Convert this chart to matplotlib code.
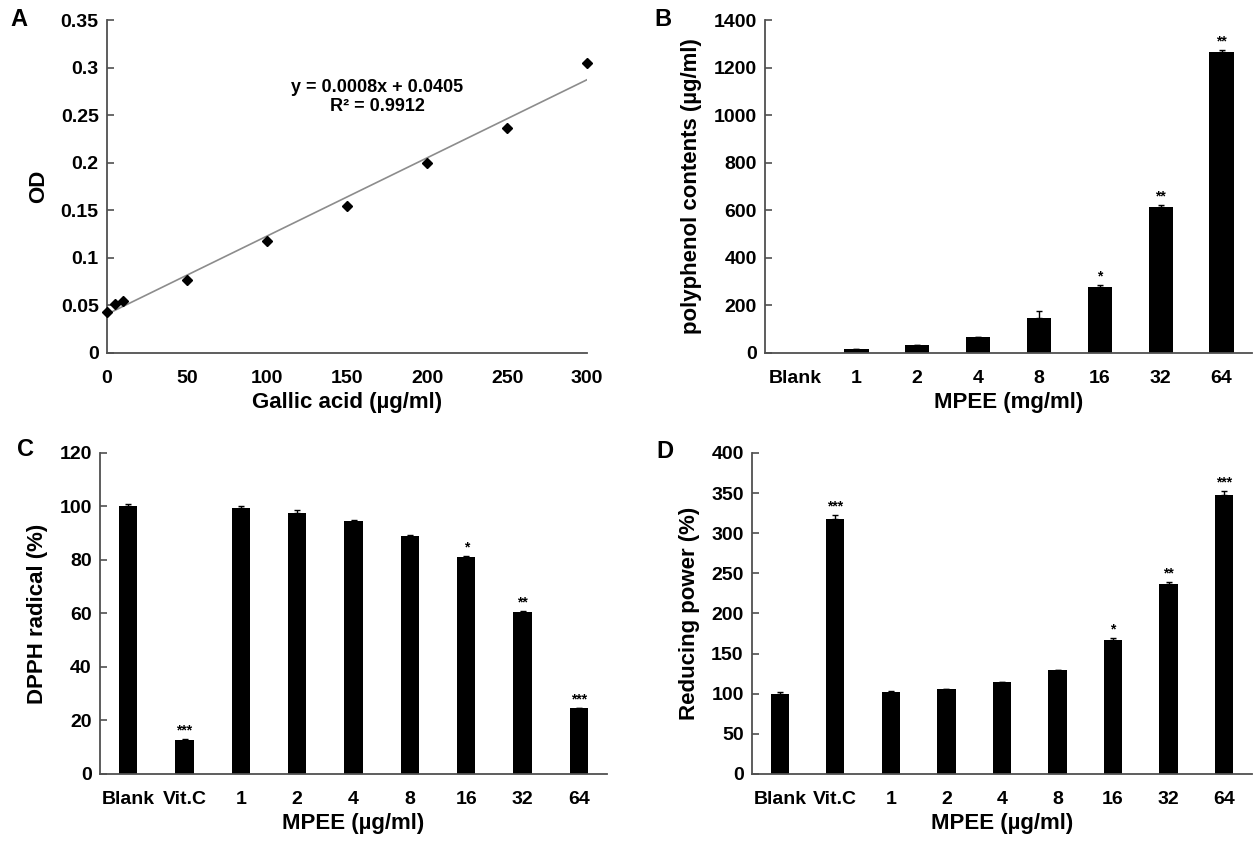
import numpy as np
import matplotlib
matplotlib.use('Agg')
import matplotlib.pyplot as plt

# ── Data ──────────────────────────────────────────────────────────────────────
gallic_conc = [0, 5, 10, 50, 100, 150, 200, 250, 300]
gallic_od   = [0.043, 0.052, 0.055, 0.077, 0.118, 0.155, 0.200, 0.237, 0.305]

poly_labels = ['Blank', '1', '2', '4', '8', '16', '32', '64']
poly_vals   = [0, 15, 33, 67, 148, 278, 613, 1265]
poly_err    = [0, 2, 2, 2, 28, 7, 10, 8]
poly_stars  = ['', '', '', '', '', '*', '**', '**']

dose_labels = ['Blank', 'Vit.C', '1', '2', '4', '8', '16', '32', '64']
dpph_vals   = [100, 12.6, 99.4, 97.6, 94.6, 89.1, 81.0, 60.4, 24.5]
dpph_err    = [1.0, 0.4, 0.8, 1.0, 0.3, 0.4, 0.6, 0.6, 0.3]
dpph_stars  = ['', '***', '', '', '', '', '*', '**', '***']

rp_vals     = [100, 318, 102, 105.5, 114, 129, 167, 237, 348]
rp_err      = [2, 5, 1, 1, 1, 1, 2, 2, 5]
rp_stars    = ['', '***', '', '', '', '', '*', '**', '***']

# ── Style ─────────────────────────────────────────────────────────────────────
plt.rcParams['font.family'] = ['Liberation Sans', 'DejaVu Sans']
plt.rcParams['font.weight'] = 'bold'
plt.rcParams['axes.labelweight'] = 'bold'
SPINE = '#505050'
TICK_FS = 14
LABEL_FS = 16

fig = plt.figure(figsize=(12.55, 8.41), dpi=100)

def style_axes(ax):
    for s in ['top', 'right']:
        ax.spines[s].set_visible(False)
    for s in ['left', 'bottom']:
        ax.spines[s].set_color(SPINE)
        ax.spines[s].set_linewidth(1.3)
    ax.tick_params(axis='y', direction='in', length=5, width=1.2,
                   color=SPINE, labelsize=TICK_FS, pad=6)
    ax.tick_params(axis='x', length=0, labelsize=TICK_FS, pad=12)

def bar_panel(ax, labels, vals, errs, stars, width):
    x = np.arange(len(labels))
    ax.bar(x, vals, width=width, color='black', zorder=2)
    has_err = np.array(errs) > 0
    ax.errorbar(x[has_err], np.array(vals)[has_err],
                yerr=[np.zeros(has_err.sum()), np.array(errs)[has_err]], fmt='none',
                ecolor='black', elinewidth=1, capsize=2.5, capthick=1, zorder=3)
    for xi, v, e, s in zip(x, vals, errs, stars):
        if s:
            ax.annotate(s, (xi, v + e), xytext=(0, 1), textcoords='offset points',
                        ha='center', va='bottom', fontsize=10, fontweight='bold')
    ax.set_xticks(x)
    ax.set_xticklabels(labels)
    ax.set_xlim(-0.5, len(labels) - 0.5)
    style_axes(ax)

# ── A: gallic acid standard curve ─────────────────────────────────────────────
axA = fig.add_axes([0.0853, 0.5803, 0.3825, 0.3959])
slope, icpt = np.polyfit(gallic_conc, gallic_od, 1)
xs = np.array([0, 300])
axA.plot(xs, slope * xs + icpt, color='#8c8c8c', lw=1.2, zorder=1)
axA.plot(gallic_conc, gallic_od, 'D', color='black', ms=5, zorder=3, clip_on=False)
axA.set_xlim(0, 300)
axA.set_ylim(0, 0.35)
axA.set_xticks(range(0, 301, 50))
axA.set_yticks([0, 0.05, 0.1, 0.15, 0.2, 0.25, 0.3, 0.35])
axA.set_yticklabels(['0', '0.05', '0.1', '0.15', '0.2', '0.25', '0.3', '0.35'])
style_axes(axA)
axA.text(169, 0.269, 'y = 0.0008x + 0.0405\nR² = 0.9912', ha='center', va='center',
         fontsize=13, fontweight='bold', linespacing=1.15)
axA.set_xlabel('Gallic acid (µg/ml)', fontsize=LABEL_FS, labelpad=4)
axA.set_ylabel('OD', fontsize=LABEL_FS, labelpad=8)

# ── B: polyphenol contents ────────────────────────────────────────────────────
axB = fig.add_axes([0.6096, 0.5803, 0.388, 0.3959])
bar_panel(axB, poly_labels, poly_vals, poly_err, poly_stars, 0.4)
axB.set_ylim(0, 1400)
axB.set_yticks(range(0, 1401, 200))
axB.set_xlabel('MPEE (mg/ml)', fontsize=LABEL_FS, labelpad=4)
axB.set_ylabel('polyphenol contents (µg/ml)', fontsize=LABEL_FS, labelpad=8)

# ── C: DPPH radical ───────────────────────────────────────────────────────────
axC = fig.add_axes([0.0797, 0.0797, 0.404, 0.3817])
bar_panel(axC, dose_labels, dpph_vals, dpph_err, dpph_stars, 0.33)
axC.set_ylim(0, 120)
axC.set_yticks(range(0, 121, 20))
axC.set_xlabel('MPEE (µg/ml)', fontsize=LABEL_FS, labelpad=4)
axC.set_ylabel('DPPH radical (%)', fontsize=LABEL_FS, labelpad=8)

# ── D: reducing power ─────────────────────────────────────────────────────────
axD = fig.add_axes([0.5992, 0.0797, 0.3984, 0.3817])
bar_panel(axD, dose_labels, rp_vals, rp_err, rp_stars, 0.33)
axD.set_ylim(0, 400)
axD.set_yticks(range(0, 401, 50))
axD.set_xlabel('MPEE (µg/ml)', fontsize=LABEL_FS, labelpad=4)
axD.set_ylabel('Reducing power (%)', fontsize=LABEL_FS, labelpad=8)

# ── Panel letters ─────────────────────────────────────────────────────────────
for letter, (px, py) in {'A': (19, 20), 'B': (663, 20), 'C': (25, 449), 'D': (665, 451)}.items():
    fig.text(px / 1255, 1 - py / 841, letter, ha='center', va='center',
             fontsize=17, fontweight='bold')

fig.savefig('out.png', dpi=100)
